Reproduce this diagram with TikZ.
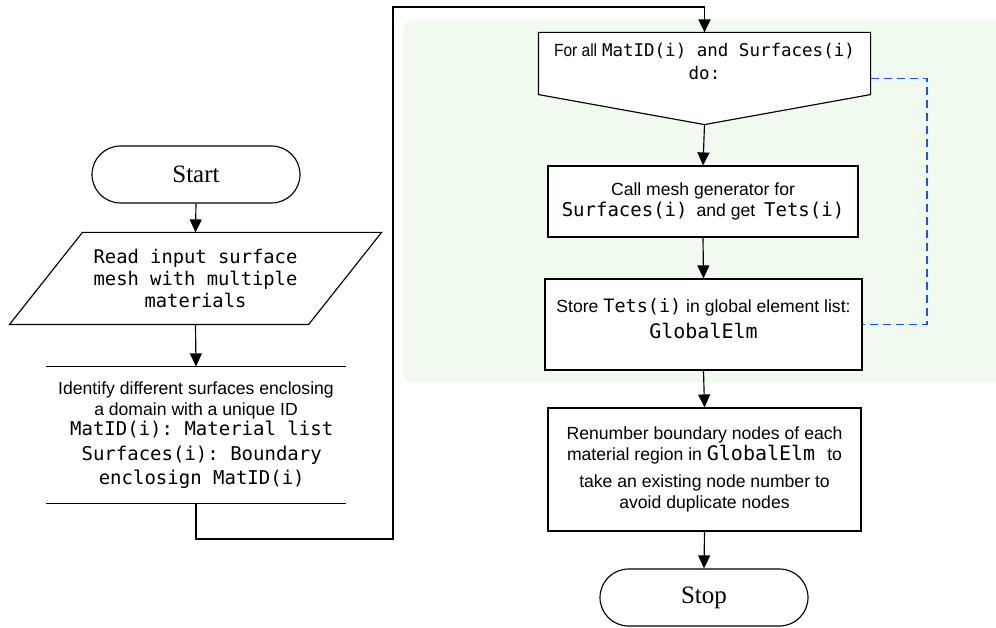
\documentclass[tikz,border=0pt]{standalone}
\usepackage{fontspec}
\setmainfont{Liberation Sans}
\setmonofont{DejaVu Sans Mono}
\newfontfamily\serifface{Liberation Serif}
\newfontfamily\narrowface[FakeStretch=0.88]{Liberation Sans}
\usetikzlibrary{arrows.meta,shapes.misc,calc}
\newcommand\fsz[2]{\fontsize{#1}{#2}\selectfont}
\definecolor{loopbg}{RGB}{240,250,238}
\definecolor{loopblue}{RGB}{30,80,250}

\begin{document}
\begin{tikzpicture}[x=1pt,y=-1pt,
  line width=1.15pt,
  flow/.style={-{Triangle[length=13pt,width=12pt]}},
  terminal/.style={rounded rectangle, draw, fill=white, minimum width=208pt,
    minimum height=57pt, inner sep=0pt, font=\serifface\fsz{25}{30}},
  process/.style={rectangle, draw, fill=white, inner sep=0pt, align=center,
    font=\fsz{17.6}{21.5}},
  frame/.style={inner sep=0pt, align=center}
]
\useasboundingbox (0,0) rectangle (996,628);
\fill[white] (0,0) rectangle (996,628);

% shaded region holding the per-material loop
\begin{scope}
  \clip (0,0) rectangle (996,628);
  \fill[loopbg, rounded corners=10pt] (403,20) rectangle (1012,382);
\end{scope}

% left column
\node[terminal] (start) at (196,174.5) {Start};

\node[frame, minimum width=371pt, minimum height=91pt,
      font=\ttfamily\fsz{18.8}{22}] (read) at (195.5,278.5)
  {Read input surface\\mesh with multiple\\materials};
\draw ($(read.north west)+(73,0)$) -- (read.north east)
  -- ($(read.south east)+(-73,0)$) -- (read.south west) -- cycle;

\node[frame, minimum width=298pt, minimum height=136pt,
      font=\fsz{17.6}{21}] (ident) at (196,435)
  {Identify different surfaces enclosing\\
   a domain with a unique ID\\[-1pt]
   {\ttfamily\fsz{19}{24} MatID(i): Material list}\\[4pt]
   {\ttfamily\fsz{19}{24} Surfaces(i): Boundary}\\[3.5pt]
   {\ttfamily\fsz{19}{24} enclosign MatID(i)}};
\draw (ident.north west) -- (ident.north east);
\draw (ident.south west) -- (ident.south east);

% right column
\node[frame, minimum width=331pt, minimum height=91pt] (for) at (704.5,78.5) {};
\draw[fill=white] (for.north west) -- (for.north east)
  -- ($(for.south east)+(0,-30)$) -- (for.south)
  -- ($(for.south west)+(0,-30)$) -- cycle;
\node[frame, font=\fsz{17.5}{23}] (fortext) at (704.5,61)
  {{\narrowface\fsz{17.6}{23}For all} \texttt{MatID(i) and Surfaces(i)}\\\texttt{do:}};

\node[process, minimum width=310pt, minimum height=71pt] (call) at (703,201.5)
  {Call mesh generator for\\[-0.5pt]
   \texttt{\fsz{19}{21.5}Surfaces(i)}\hspace{4pt} and get\hspace{4pt} \texttt{\fsz{19}{21.5}Tets(i)}};

\node[process, minimum width=317pt, minimum height=91pt] (store) at (703.5,324.5)
  {Store \texttt{\fsz{18.5}{21.5}Tets(i)} in global element list:\\[4pt]
   \texttt{\fsz{20}{24}GlobalElm}\rule[-12pt]{0pt}{1pt}};

\node[process, minimum width=313pt, minimum height=123pt] (renum) at (704.5,469.5)
  {Renumber boundary nodes of each\\
   material region in \texttt{\fsz{20}{24}GlobalElm }to\\[5pt]
   take an existing node number to\\
   avoid duplicate nodes};

\node[terminal] (stop) at (704,597.5) {Stop};

% connectors
\coordinate (turnA) at (393,539);
\coordinate (turnB) at (393,7);
\coordinate (loopTop) at (927,78.5);

\draw[flow] (start.south) -- (read.north);
\draw[flow] (read.south) -- (ident.north);
\draw[flow] (ident.south) |- (turnA) -- (turnB) -| (for.north);
\draw[flow] (for.south) -- (call.north);
\draw[flow] (call.south) -- (store.north);
\draw[flow] (store.south) -- (renum.north);
\draw[flow] (renum.south) -- (stop.north);
\draw[loopblue, dash pattern=on 8pt off 5pt] (for.east) -- (loopTop) |- (store.east);
\end{tikzpicture}
\end{document}
